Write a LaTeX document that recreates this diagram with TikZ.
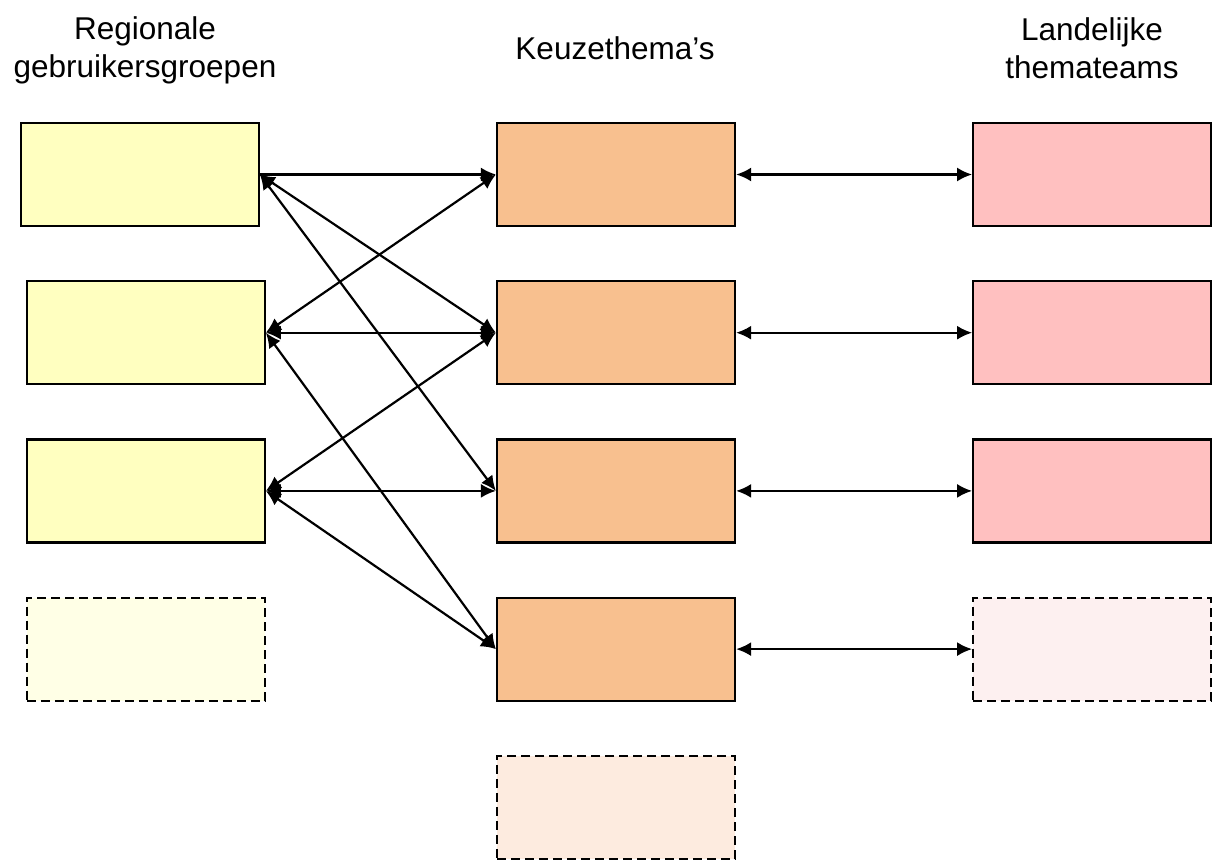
\documentclass[tikz,border=0pt]{standalone}
\usepackage{fontspec}
\setmainfont{Liberation Sans}
\usetikzlibrary{positioning,arrows.meta}
\definecolor{regio}{HTML}{FFFFC0}
\definecolor{regiolicht}{HTML}{FFFFE6}
\definecolor{thema}{HTML}{F8C08F}
\definecolor{themalicht}{HTML}{FDEBDF}
\definecolor{team}{HTML}{FFC0C0}
\definecolor{teamlicht}{HTML}{FDF0F0}
\tikzset{box node/.style={draw,line width=2.2pt,minimum width=238pt,minimum height=103pt,inner sep=0pt},
  regio node/.style={box node,fill=regio},
  thema node/.style={box node,fill=thema},
  team node/.style={box node,fill=team},
  leeg/.style={dash pattern=on 9pt off 5pt},
  kop/.style={align=center,font=\fontsize{31.5}{38}\selectfont},
  conn/.style={line width=2.2pt,>={Latex[length=15pt,width=14pt]}}}

\begin{document}
\begin{tikzpicture}[x=1pt,y=1pt]
            \useasboundingbox (0,0) rectangle (1214,-862);
            \node[thema node] (K1) at (616,-174.5) {};
            \node[thema node] (K2) [below = 53pt of K1] {};
            \node[thema node] (K3) [below = 53pt of K2] {};
            \node[thema node] (K4) [below = 53pt of K3] {};
            \node[thema node, leeg, fill=themalicht] (K5) [below = 53pt of K4] {};
            \node[regio node] (R1) [left = 236pt of K1] {};
            \node[regio node] (R2) [left = 230pt of K2] {};
            \node[regio node] (R3) [left = 230pt of K3] {};
            \node[regio node, leeg, fill=regiolicht] (R4) [left = 230pt of K4] {};
            \node[team node] (T1) [right = 236pt of K1] {};
            \node[team node] (T2) [right = 236pt of K2] {};
            \node[team node] (T3) [right = 236pt of K3] {};
            \node[team node, leeg, fill=teamlicht] (T4) [right = 236pt of K4] {};

            \node[kop] (kopR) at (145,-50) {Regionale\\gebruikersgroepen};
            \node[kop] (kopK) at (615,-48) {Keuzethema’s};
            \node[kop] (kopT) at (1092,-48) {Landelijke\\themateams};

            \path[draw, conn]
            (R1.east) edge[->] (K1.west)
            (R1.east) edge[<->] (K2.west)
            (R1.east) edge[<->] (K3.west)
            (R2.east) edge[<->] (K1.west)
            (R2.east) edge[<->] (K2.west)
            (R2.east) edge[<->] (K4.west)
            (R3.east) edge[<->] (K2.west)
            (R3.east) edge[<->] (K3.west)
            (R3.east) edge[<->] (K4.west)
            (K1.east) edge[<->] (T1.west)
            (K2.east) edge[<->] (T2.west)
            (K3.east) edge[<->] (T3.west)
            (K4.east) edge[<->] (T4.west);
        \end{tikzpicture}
\end{document}
